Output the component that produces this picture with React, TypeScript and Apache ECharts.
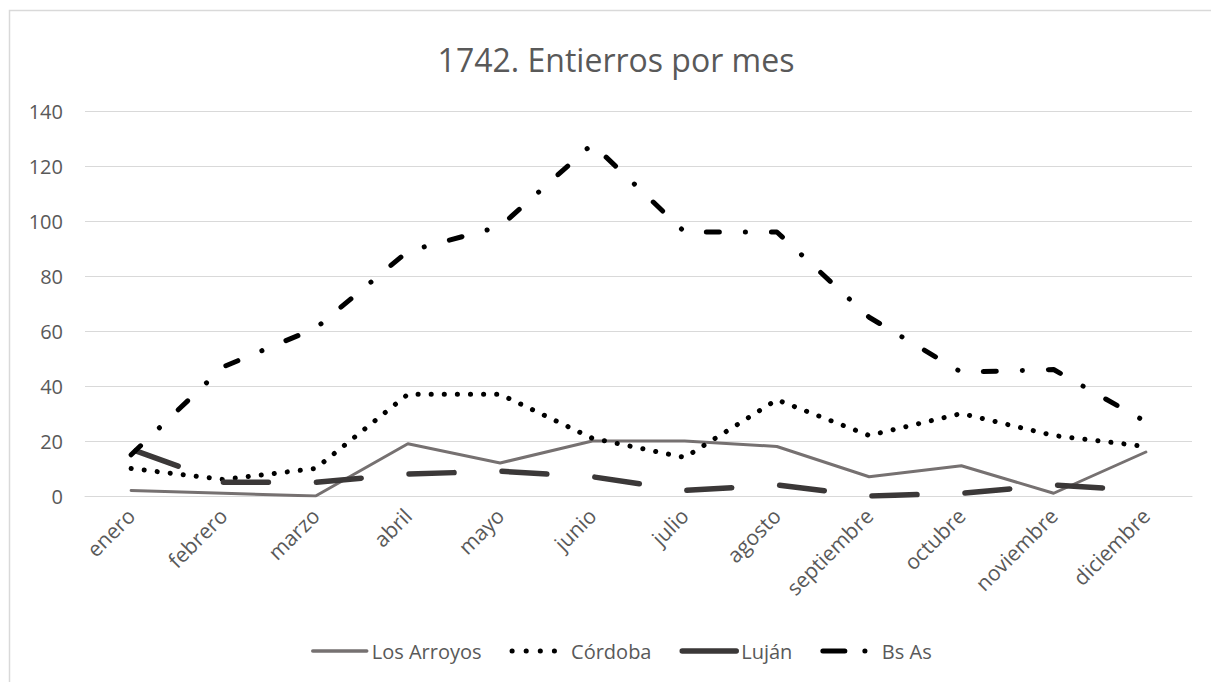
import React, { useEffect, useRef } from "react";
import * as echarts from "echarts";

const months = ["enero", "febrero", "marzo", "abril", "mayo", "junio", "julio", "agosto", "septiembre", "octubre", "noviembre", "diciembre"];
const losArroyos = [2, 1, 0, 19, 12, 20, 20, 18, 7, 11, 1, 16];
const cordoba = [10, 6, 10, 37, 37, 21, 14, 35, 22, 30, 22, 18];
const lujan = [17, 5, 5, 8, 9, 7, 2, 4, 0, 1, 4, 2];
const bsAs = [15, 47, 61, 89, 98, 128, 96, 96, 65, 45, 46, 27];
const yTicks = { min: 0, max: 140, interval: 20 };

const FONT = "'Open Sans', 'Noto Sans', sans-serif";
const TEXT = "#595959";

export default function App() {
  const ref = useRef<HTMLDivElement>(null);
  useEffect(() => {
    if (!ref.current) return;
    const chart = echarts.init(ref.current, undefined, { renderer: "svg" });
    const mk = (name: string, data: number[], color: string, width: number, type: any, dashOffset = 0) => ({
      name,
      type: "line",
      data,
      symbol: "none",
      showSymbol: false,
      smooth: false,
      color,
      itemStyle: { color, opacity: 0 },
      lineStyle: { color, width, type, dashOffset, cap: "round", join: "round" },
    });
    chart.setOption({
      animation: false,
      backgroundColor: "#ffffff",
      textStyle: { fontFamily: FONT },
      graphic: [
        {
          type: "rect",
          shape: { x: 9.5, y: 10.5, width: 1230, height: 700 },
          style: { fill: "none", stroke: "#d9d9d9", lineWidth: 1.5 },
          silent: true,
        },
        {
          type: "text",
          x: 616,
          y: 59,
          style: {
            text: "1742. Entierros por mes",
            fontSize: 32,
            fontFamily: FONT,
            fill: TEXT,
            textAlign: "center",
            textVerticalAlign: "middle",
          },
        },
      ],
      legend: {
        bottom: 16,
        left: 306,
        itemWidth: 54,
        itemHeight: 14,
        itemGap: 28,
        itemStyle: { opacity: 0 },
        textStyle: { fontSize: 20, color: TEXT, fontFamily: FONT },
        data: [
          { name: "Los Arroyos", lineStyle: { width: 3.5, type: "solid", cap: "round", color: "#767171" } },
          { name: "Córdoba", lineStyle: { width: 5, type: [0.1, 14], cap: "round", color: "#000000" } },
          { name: "Luján", lineStyle: { width: 5.5, type: "solid", cap: "round", color: "#3b3838" } },
          { name: "Bs As", lineStyle: { width: 5, type: [22, 20, 0.1, 30], cap: "round", color: "#000000" } },
        ],
      },
      grid: { left: 85, right: 19, top: 111, height: 385, containLabel: false },
      xAxis: {
        type: "category",
        data: months,
        boundaryGap: true,
        axisLine: { show: true, lineStyle: { color: "#d9d9d9", width: 1 } },
        axisTick: { show: false },
        axisLabel: { rotate: 45, fontSize: 21, color: TEXT, fontFamily: FONT, margin: 16, interval: 0 },
      },
      yAxis: {
        type: "value",
        min: yTicks.min,
        max: yTicks.max,
        interval: yTicks.interval,
        axisLine: { show: false },
        axisTick: { show: false },
        axisLabel: { fontSize: 20, color: TEXT, fontFamily: FONT, margin: 22 },
        splitLine: { lineStyle: { color: "#d9d9d9", width: 1 } },
      },
      series: [
        mk("Los Arroyos", losArroyos, "#767171", 3, "solid"),
        mk("Córdoba", cordoba, "#000000", 5, [0.1, 13]),
        mk("Luján", lujan, "#3b3838", 5.5, [45, 48], -5),
        mk("Bs As", bsAs, "#000000", 5, [13, 26, 0.1, 26]),
      ],
    });
    return () => chart.dispose();
  }, []);
  return <div ref={ref} style={{ position: "fixed", left: 0, top: 0, width: 1211, height: 682 }} />;
}
